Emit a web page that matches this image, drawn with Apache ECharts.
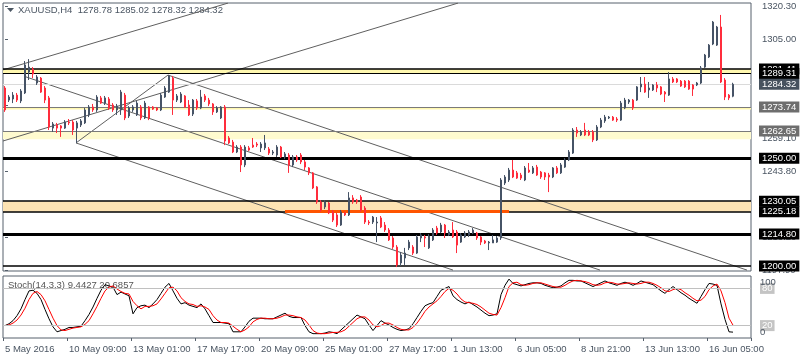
<!DOCTYPE html>
<html><head><meta charset="utf-8">
<script src="https://cdn.jsdelivr.net/npm/echarts@6/dist/echarts.min.js"></script>
<style>html,body{margin:0;padding:0;background:#fff}#c{width:800px;height:360px}</style>
</head><body><div id="c"></div>
<script>
const symbolName = 'XAUUSD,H4';
const stochName = 'Stoch(14,3,3)';
const tickLabels = ['5 May 2016','10 May 09:00','13 May 01:00','17 May 17:00','20 May 09:00','25 May 01:00','27 May 17:00','1 Jun 13:00','6 Jun 05:00','8 Jun 21:00','13 Jun 13:00','16 Jun 05:00'];
const tickEvery = 16;
const totalSlots = 187;

const opens = [1282.6,1277.0,1277.5,1279.3,1276.6,1280.3,1290.0,1291.4,1284.9,1287.2,
1282.6,1278.0,1264.0,1265.4,1265.0,1264.0,1266.8,1266.8,1264.0,1265.4,
1266.4,1270.1,1273.8,1272.4,1278.0,1275.6,1277.5,1274.7,1272.4,1272.4,
1279.3,1269.6,1272.4,1270.1,1273.8,1268.7,1273.8,1273.8,1273.3,1272.4,
1278.4,1280.7,1287.2,1277.0,1276.1,1278.9,1274.7,1270.5,1276.6,1273.3,
1278.9,1277.0,1275.2,1271.5,1268.7,1273.8,1259.4,1257.5,1252.9,1255.2,
1246.9,1254.8,1256.1,1256.6,1254.8,1254.8,1254.3,1252.4,1251.5,1255.2,
1250.6,1251.5,1246.9,1250.6,1251.5,1248.3,1245.5,1243.2,1236.7,1229.7,
1227.4,1229.2,1225.1,1223.7,1219.0,1224.6,1223.7,1231.6,1230.6,1232.0,
1226.9,1220.4,1220.4,1220.0,1222.3,1219.0,1216.7,1213.0,1208.8,1201.4,
1203.7,1208.4,1208.8,1206.0,1213.0,1213.5,1208.4,1212.1,1217.6,1215.8,
1219.0,1214.4,1216.7,1215.8,1211.1,1213.5,1214.4,1215.3,1215.3,1213.5,
1211.6,1210.7,1210.7,1211.1,1213.0,1238.5,1239.9,1244.5,1243.2,1242.2,
1239.9,1244.5,1243.2,1245.9,1243.6,1243.2,1242.2,1241.3,1245.5,1243.2,
1245.9,1249.2,1252.4,1263.1,1260.8,1263.1,1262.2,1262.2,1258.5,1264.5,
1267.3,1268.7,1269.1,1268.2,1267.7,1273.3,1276.1,1277.0,1277.0,1283.1,
1284.4,1281.7,1281.7,1284.0,1283.1,1280.7,1279.3,1286.8,1286.8,1285.8,
1285.8,1285.8,1284.0,1284.0,1284.9,1292.3,1297.0,1303.0,1302.5,1310.9,
1286.3,1279.3,1278.78];
const closes = [1272.4,1278.4,1279.3,1277.0,1281.2,1293.3,1292.3,1289.1,1287.7,1280.7,
1277.0,1264.5,1265.9,1264.0,1264.0,1266.8,1266.4,1263.1,1266.4,1267.3,
1272.4,1273.8,1272.4,1278.4,1275.6,1278.0,1273.3,1272.4,1274.2,1280.7,
1268.7,1273.3,1273.8,1275.6,1268.7,1275.6,1268.7,1272.8,1272.4,1279.3,
1282.6,1288.2,1277.0,1278.9,1279.8,1273.8,1270.1,1277.0,1273.3,1278.4,
1277.0,1275.2,1271.5,1273.3,1273.8,1258.0,1257.1,1252.9,1255.2,1246.9,
1255.2,1253.8,1255.2,1256.1,1256.6,1257.1,1252.4,1252.9,1255.2,1250.6,
1252.0,1246.9,1250.6,1249.2,1248.3,1245.9,1243.2,1236.2,1229.7,1226.0,
1229.7,1224.6,1221.3,1219.0,1225.1,1223.7,1231.6,1229.7,1229.7,1226.0,
1220.4,1220.0,1222.7,1220.4,1218.1,1216.7,1212.1,1208.8,1200.5,1205.1,
1206.0,1211.1,1206.0,1213.5,1214.4,1213.0,1213.9,1216.7,1215.3,1219.0,
1215.3,1215.8,1213.5,1209.7,1214.4,1215.3,1215.8,1216.7,1213.0,1211.1,
1210.7,1211.1,1212.1,1213.0,1239.9,1241.3,1244.5,1241.3,1240.8,1240.8,
1245.5,1243.6,1245.5,1242.2,1241.3,1241.3,1241.3,1245.5,1243.2,1246.9,
1249.2,1252.9,1263.1,1261.7,1262.2,1260.8,1260.8,1258.5,1264.5,1267.7,
1269.1,1269.1,1267.7,1267.7,1275.6,1277.0,1277.0,1273.3,1283.1,1284.4,
1280.7,1282.6,1284.0,1282.6,1279.8,1279.8,1286.8,1285.4,1285.4,1283.5,
1283.1,1282.1,1282.1,1284.9,1291.9,1297.9,1302.5,1313.2,1310.9,1285.4,
1278.4,1278.0,1284.32];
const lows = [1271.5,1276.1,1275.6,1276.1,1275.6,1279.8,1286.3,1287.2,1284.0,1280.3,
1275.6,1263.1,1262.2,1261.7,1259.9,1263.6,1265.4,1260.8,1257.1,1264.5,
1265.9,1269.1,1271.5,1271.5,1275.2,1274.7,1272.4,1271.5,1270.1,1270.1,
1267.7,1268.7,1271.5,1269.6,1267.7,1268.2,1267.7,1272.4,1271.9,1271.9,
1278.0,1280.3,1270.1,1276.1,1275.6,1273.3,1269.6,1269.6,1272.4,1272.8,
1276.1,1274.2,1270.1,1271.0,1268.2,1256.1,1256.6,1252.4,1252.4,1243.6,
1245.9,1253.4,1254.8,1255.2,1252.9,1253.8,1251.5,1251.5,1250.6,1250.1,
1249.6,1243.2,1245.9,1248.3,1247.3,1244.5,1242.2,1235.7,1228.8,1225.1,
1226.4,1224.1,1220.4,1218.1,1218.6,1223.2,1223.2,1228.8,1228.8,1225.1,
1219.5,1219.0,1219.5,1211.1,1217.6,1215.8,1211.6,1207.9,1199.5,1200.0,
1200.5,1207.4,1205.1,1205.6,1211.1,1208.8,1207.9,1211.6,1214.4,1215.3,
1213.0,1213.9,1213.0,1206.0,1210.7,1213.0,1213.5,1214.8,1212.1,1209.7,
1210.2,1207.4,1210.7,1210.7,1212.1,1237.6,1239.0,1240.8,1240.4,1239.9,
1239.4,1243.2,1242.7,1241.8,1240.4,1239.9,1234.3,1240.8,1242.7,1242.7,
1245.5,1248.7,1252.0,1259.9,1260.3,1260.3,1260.3,1257.5,1258.0,1264.0,
1266.4,1268.2,1267.3,1266.8,1267.3,1272.8,1275.2,1272.4,1276.6,1280.7,
1280.3,1278.0,1281.2,1280.7,1279.3,1276.1,1278.9,1284.9,1284.9,1283.1,
1282.6,1281.7,1278.9,1283.5,1284.4,1291.9,1296.5,1302.5,1302.1,1284.9,
1277.0,1277.0,1278.32];
const highs = [1283.5,1279.3,1280.7,1280.3,1282.1,1295.1,1296.0,1292.3,1288.6,1287.7,
1283.5,1278.9,1266.8,1266.4,1265.4,1267.7,1268.2,1267.7,1267.3,1268.2,
1273.3,1274.7,1275.2,1279.3,1278.9,1278.9,1278.4,1275.6,1275.2,1281.7,
1280.3,1274.2,1274.7,1276.6,1274.7,1276.6,1274.2,1274.2,1273.8,1280.3,
1283.5,1288.6,1288.2,1279.8,1280.7,1279.3,1277.0,1277.5,1277.5,1281.7,
1279.8,1278.0,1275.6,1274.2,1274.2,1274.7,1260.3,1258.5,1256.1,1256.1,
1256.1,1255.7,1259.4,1257.5,1257.5,1260.8,1255.2,1253.8,1256.1,1255.7,
1252.9,1252.4,1251.5,1251.5,1252.4,1249.2,1245.9,1243.6,1237.1,1230.6,
1230.6,1229.7,1226.0,1224.6,1226.0,1225.1,1234.3,1232.9,1231.1,1232.9,
1227.8,1221.3,1223.2,1222.7,1223.2,1220.4,1217.6,1213.9,1209.7,1206.5,
1208.4,1212.1,1209.7,1214.4,1215.3,1214.4,1214.8,1217.6,1218.6,1220.0,
1219.5,1216.7,1220.4,1216.7,1215.3,1216.2,1216.7,1217.6,1215.8,1213.9,
1212.1,1211.6,1214.4,1213.9,1240.8,1242.2,1245.5,1249.2,1244.1,1243.2,
1246.4,1247.8,1246.4,1246.9,1244.1,1243.6,1243.2,1245.9,1246.4,1247.8,
1250.1,1253.8,1264.0,1264.5,1263.1,1266.4,1263.1,1263.1,1265.4,1268.7,
1270.1,1269.6,1269.6,1269.1,1276.6,1278.0,1277.5,1277.5,1283.5,1287.7,
1287.7,1285.4,1284.4,1285.4,1283.5,1281.2,1290.0,1287.7,1287.2,1286.3,
1286.3,1286.3,1284.4,1285.4,1292.8,1298.4,1303.0,1313.7,1311.4,1316.5,
1287.2,1279.8,1285.02];

const stochK = [20,23,28,36,47,62,76,77,72,62,
46,31,18,10,12,14,17,17,18,19,
28,38,50,64,77,86,84,82,70,74,
71,68,39,49,52,53,49,55,62,72,
82,88,76,64,55,57,53,51,49,55,
47,36,25,25,25,24,23,10,10,10,
18,27,32,32,32,31,31,31,34,37,
40,35,33,33,33,20,10,7,7,7,
8,10,9,7,13,19,25,31,37,34,
31,21,12,20,28,24,21,17,14,12,
13,15,23,33,43,52,55,57,67,77,
80,83,68,62,58,55,58,54,50,45,
40,36,37,39,70,85,95,88,86,84,
86,88,89,89,88,85,83,81,82,84,
89,93,93,92,92,89,86,83,86,89,
92,89,87,85,88,90,88,85,88,92,
90,88,86,81,76,72,78,83,78,73,
69,64,60,56,67,78,88,87,85,55,
30,10,9.4427];
const stochD = [20,21,24,29,37,48,62,72,75,70,
60,46,32,20,13,12,14,16,17,18,
22,28,39,51,64,76,82,84,79,75,
72,71,59,52,47,51,51,52,55,63,
72,81,82,76,65,59,55,54,51,52,
50,46,36,29,25,25,24,19,14,10,
13,18,26,30,32,32,31,31,32,34,
37,37,36,34,33,29,21,12,8,7,
7,8,9,9,10,13,19,25,31,34,
34,29,21,18,20,24,24,21,17,14,
13,13,17,24,33,43,50,55,60,67,
75,80,77,71,63,58,57,56,54,50,
45,40,38,37,49,65,83,89,90,86,
85,86,88,89,89,87,85,83,82,82,
85,89,92,93,92,91,89,86,85,86,
89,90,89,87,87,88,89,88,87,88,
90,90,88,85,81,76,75,78,80,78,
73,69,64,60,61,67,78,84,87,76,
57,32,20.6857];

const priceTicks = [1320.30,1305.00,1289.70,1274.40,1259.10,1243.80,1228.50,1213.20,1197.90];
const stochEdgeTicks = [0,100];
const stochLevels = [20,80];
const levelValues = [1291.41,1289.31,1284.32,1273.74,1262.65,1250.00,1230.05,1225.18,1214.80,1200.00];
const zones = [[1289.31,1291.41],[1272.6,1273.74],[1258.8,1262.65],[1225.18,1230.05]];
const segment = [70,126,1225.18];
const trendLines = [
  [[-0.5,1291.0],[55.75,1322.0]],
  [[-0.5,1258.0],[113.25,1322.0]],
  [[17.75,1257.1],[40.75,1288.6]],
  [[40.75,1288.6],[185.5,1198.1]],
  [[17.75,1257.1],[112,1198.1]],
  [[5,1287.9],[148.75,1198.1]]
];

// ---- styles ----
const FONT = 'Liberation Sans';
const FS = 9.5;
const TXT = '#4a5562';
const BULL = '#465366', BEAR = '#ff2d3c';
const BORDER = '#56606c';
const levelStyles = [
  {line:'#000', w:1.5, box:'#000'},
  {line:'#000', w:1.2, box:'#000'},
  {line:'#dadada', w:1, box:'#47525e'},
  {line:'#7a7a7a', w:1, box:'#6e6e6e'},
  {line:'#7a7a7a', w:1, box:'#6e6e6e'},
  {line:'#000', w:3, box:'#000'},
  {line:'#000', w:1.5, box:'#000'},
  {line:'#000', w:1.5, box:'#000'},
  {line:'#000', w:3, box:'#000'},
  {line:'#000', w:1.5, box:'#000'}
];
const zoneColors = ['#fff8b0','#fff8b0','#fffbcf','#fde3b3'];

const cats = Array.from({length: totalSlots}, (_, i) => String(i));
const candles = cats.map((_, i) => i < opens.length ? [opens[i], closes[i], lows[i], highs[i]] : '-');
const kData = cats.map((_, i) => i < stochK.length ? stochK[i] : '-');
const dData = cats.map((_, i) => i < stochD.length ? stochD[i] : '-');
const n = opens.length - 1;
const f2 = v => v.toFixed(2);
const titleText = symbolName + '  ' + f2(opens[n]) + ' ' + f2(highs[n]) + ' ' + f2(lows[n]) + ' ' + f2(closes[n]);
const stochText = stochName + ' ' + stochK[n].toFixed(4) + ' ' + stochD[n].toFixed(4);

const chart = echarts.init(document.getElementById('c'), null, {renderer: 'canvas'});
const option = {
  animation: false,
  backgroundColor: '#fff',
  textStyle: {fontFamily: FONT},
  grid: [
    {left: 3, top: 3, width: 748, height: 268, show: true, borderColor: BORDER, borderWidth: 1, backgroundColor: '#fff'},
    {left: 3, top: 276, width: 748, height: 62, show: true, borderColor: BORDER, borderWidth: 1, backgroundColor: '#fff'}
  ],
  xAxis: [
    {type: 'category', gridIndex: 0, data: cats, boundaryGap: true, show: false},
    {type: 'category', gridIndex: 1, data: cats, boundaryGap: true,
      axisLine: {show: false},
      axisTick: {show: true, interval: tickEvery - 1, length: 3, lineStyle: {color: BORDER}},
      axisLabel: {interval: tickEvery - 1, align: 'left', margin: 6, color: TXT, fontSize: FS, fontFamily: FONT,
        formatter: (v, i) => tickLabels[i / tickEvery] || ''},
      splitLine: {show: false}},
    {type: 'value', gridIndex: 0, min: -0.5, max: totalSlots - 0.5, show: false}
  ],
  yAxis: [
    {type: 'value', gridIndex: 0, position: 'right', min: 1197.68, max: 1322.04, scale: true,
      splitLine: {show: false}, axisLine: {show: false},
      axisTick: {show: true, length: 3, customValues: priceTicks, lineStyle: {color: BORDER}},
      axisLabel: {customValues: priceTicks, formatter: v => v.toFixed(2), color: TXT, fontSize: FS, fontFamily: FONT, margin: 11,
        showMinLabel: true, showMaxLabel: true, hideOverlap: false}},
    {type: 'value', gridIndex: 1, position: 'right', min: 0, max: 100,
      splitLine: {show: false}, axisLine: {show: false}, axisTick: {show: false},
      axisLabel: {customValues: stochLevels, color: '#fff', fontSize: FS, fontFamily: FONT, margin: 9,
        backgroundColor: '#c4c4c4', padding: [1, 2, 0, 2], hideOverlap: false}},
    {type: 'value', gridIndex: 1, position: 'right', min: 0, max: 100,
      splitLine: {show: false}, axisLine: {show: false}, axisTick: {show: false},
      axisLabel: {customValues: stochEdgeTicks, color: TXT, fontSize: FS, fontFamily: FONT, margin: 9,
        showMinLabel: true, showMaxLabel: true, hideOverlap: false,
        formatter: v => v === 100 ? '{t|100}' : '{b|0}',
        rich: {
          t: {padding: [12, 0, 0, 0], fontSize: FS, fontFamily: FONT, color: TXT},
          b: {padding: [0, 0, 12, 0], fontSize: FS, fontFamily: FONT, color: TXT}
        }}}
  ],
  graphic: [
    {type: 'polygon', shape: {points: [[7, 8], [14, 8], [10.5, 12]]}, style: {fill: TXT}, silent: true},
    {type: 'text', x: 18, y: 10, silent: true, style: {text: titleText, fill: TXT, font: FS + 'px "' + FONT + '"', verticalAlign: 'middle'}},
    {type: 'text', x: 8, y: 285, silent: true, style: {text: stochText, fill: '#555', font: FS + 'px "' + FONT + '"', verticalAlign: 'middle'}}
  ],
  series: [
    {type: 'line', name: 'levels', xAxisIndex: 0, yAxisIndex: 0, data: cats.map(() => '-'), z: 1, silent: true, symbol: 'none',
      markArea: {silent: true, data: zones.map((zz, k) => [{yAxis: zz[0], itemStyle: {color: zoneColors[k]}}, {yAxis: zz[1]}])},
      markLine: {silent: true, symbol: ['none', 'none'], precision: 2,
        data: levelValues.map((v, k) => ({
          yAxis: v,
          lineStyle: {color: levelStyles[k].line, width: levelStyles[k].w, type: 'solid'},
          label: {show: true, position: 'end', distance: 8, formatter: f2(v), backgroundColor: levelStyles[k].box,
            color: '#fff', padding: [1, 3, 0, 3], fontSize: FS, fontFamily: FONT}
        })).concat([[
          {coord: [segment[0], segment[2]], lineStyle: {color: '#ff5400', width: 3, type: 'solid'}, label: {show: false}},
          {coord: [segment[1], segment[2]]}
        ]])}
    },
    ...trendLines.map(tl => ({type: 'line', xAxisIndex: 2, yAxisIndex: 0, data: tl, symbol: 'none', silent: true, z: 2,
      clip: true, lineStyle: {color: '#5f5f5f', width: 1}})),
    {type: 'candlestick', xAxisIndex: 0, yAxisIndex: 0, data: candles, barWidth: 2, z: 5, silent: true,
      itemStyle: {color: BULL, color0: BEAR, borderColor: BULL, borderColor0: BEAR, borderWidth: 1}},
    {type: 'line', xAxisIndex: 1, yAxisIndex: 1, data: kData, symbol: 'none', silent: true, z: 3,
      lineStyle: {color: '#000', width: 1},
      markLine: {silent: true, symbol: ['none', 'none'], label: {show: false},
        lineStyle: {color: '#c0c0c0', width: 1, type: 'solid'}, data: stochLevels.map(v => ({yAxis: v}))}},
    {type: 'line', xAxisIndex: 1, yAxisIndex: 1, data: dData, symbol: 'none', silent: true, z: 4,
      lineStyle: {color: '#ff0000', width: 1}}
  ]
};
chart.setOption(option);
</script></body></html>
